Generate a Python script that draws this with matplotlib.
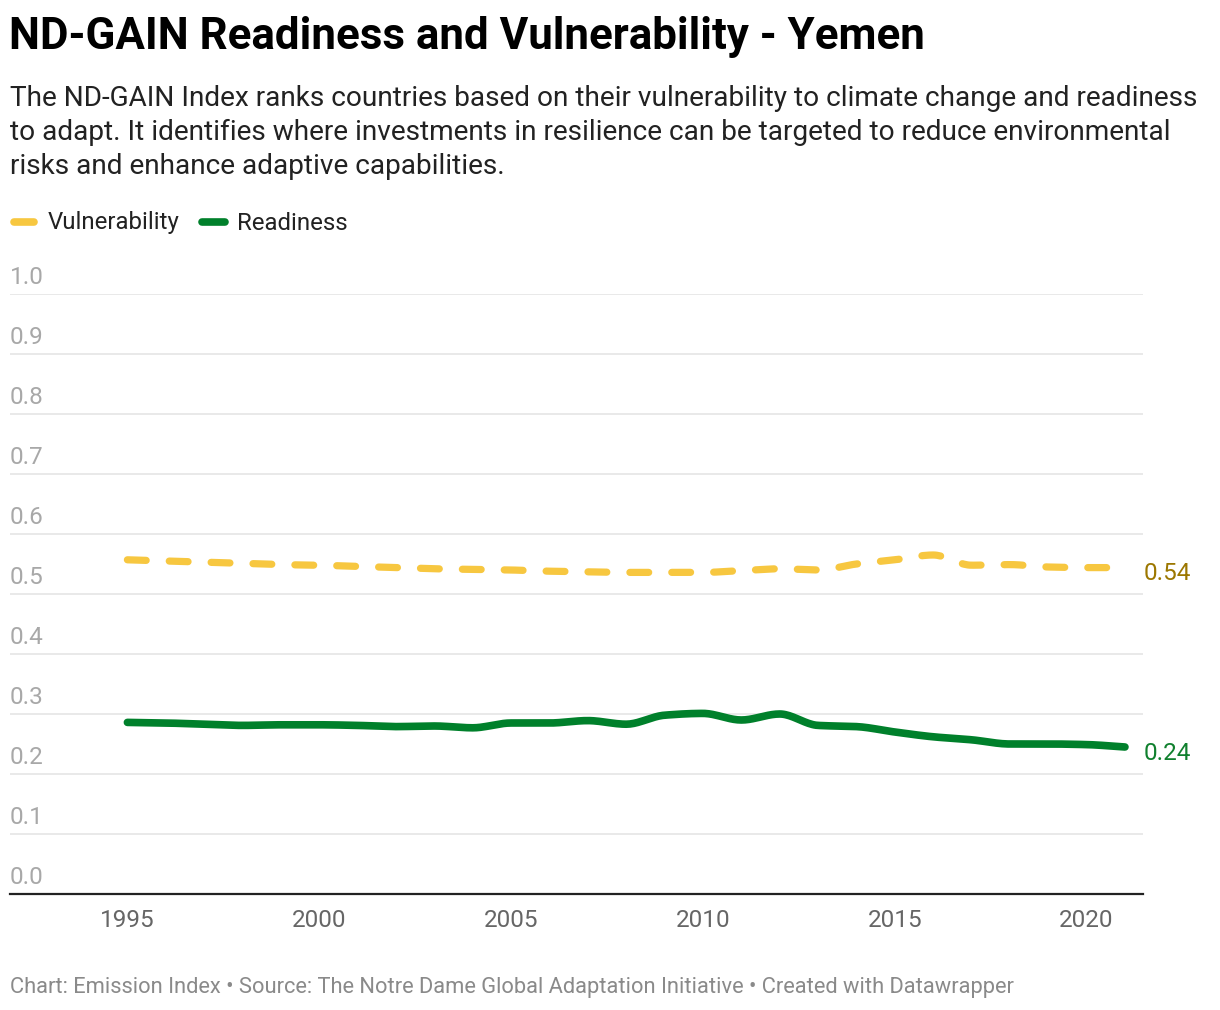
import numpy as np
import matplotlib
matplotlib.use("Agg")
import matplotlib.pyplot as plt
from matplotlib.transforms import offset_copy

plt.rcParams["font.family"] = ["Roboto", "DejaVu Sans"]

# Datos
years = list(range(1995, 2022))
vulnerability = [0.557, 0.555, 0.553, 0.551, 0.549, 0.548, 0.546, 0.544, 0.542,
                 0.541, 0.540, 0.538, 0.537, 0.536, 0.536, 0.536, 0.539, 0.542,
                 0.540, 0.550, 0.557, 0.565, 0.548, 0.549, 0.545, 0.544, 0.544]
readiness = [0.286, 0.285, 0.283, 0.281, 0.282, 0.282, 0.281, 0.279, 0.280,
             0.277, 0.285, 0.285, 0.289, 0.283, 0.298, 0.301, 0.290, 0.300,
             0.281, 0.279, 0.270, 0.262, 0.257, 0.250, 0.250, 0.249, 0.245]
y_ticks = [0.0, 0.1, 0.2, 0.3, 0.4, 0.5, 0.6, 0.7, 0.8, 0.9, 1.0]
x_ticks = [1995, 2000, 2005, 2010, 2015, 2020]

YELLOW = "#f7c740"
GREEN = "#00802b"


# Curva monótona (como la de Datawrapper) para dibujar la línea suavizada
def monotone(x, y, n=20):
    x = np.asarray(x, float)
    y = np.asarray(y, float)
    h = np.diff(x)
    d = np.diff(y) / h
    m = np.zeros_like(y)
    m[0], m[-1] = d[0], d[-1]
    for i in range(1, len(y) - 1):
        if d[i - 1] * d[i] <= 0:
            m[i] = 0
        else:
            m[i] = 2 / (1 / d[i - 1] + 1 / d[i])
    xs, ys = [], []
    for i in range(len(h)):
        t = np.linspace(0, 1, n, endpoint=False)
        h00 = 2 * t**3 - 3 * t**2 + 1
        h10 = t**3 - 2 * t**2 + t
        h01 = -2 * t**3 + 3 * t**2
        h11 = t**3 - t**2
        xs.append(x[i] + t * h[i])
        ys.append(h00 * y[i] + h10 * h[i] * m[i] + h01 * y[i + 1] + h11 * h[i] * m[i + 1])
    xs.append([x[-1]])
    ys.append([y[-1]])
    return np.concatenate(xs), np.concatenate(ys)


fig = plt.figure(figsize=(12.2, 10.1), dpi=100)
W, H = 1220, 1010

fig.text(9 / W, 1 - 37 / H, "ND-GAIN Readiness and Vulnerability - Yemen",
         fontsize=31.6, fontweight="bold", va="center", ha="left", color="#000000")
subtitulo = ("The ND-GAIN Index ranks countries based on their vulnerability to climate change and readiness\n"
             "to adapt. It identifies where investments in resilience can be targeted to reduce environmental\n"
             "risks and enhance adaptive capabilities.")
fig.text(10 / W, 1 - 85 / H, subtitulo, fontsize=20.2, va="top", ha="left",
         color="#222222", linespacing=1.32)

# Leyenda
fig.add_artist(plt.Line2D([14 / W, 34 / W], [1 - 222 / H] * 2, color=YELLOW, lw=5.5,
                          solid_capstyle="round"))
fig.text(48 / W, 1 - 223 / H, "Vulnerability", fontsize=17.3, va="center", color="#222222")
fig.add_artist(plt.Line2D([202 / W, 225 / W], [1 - 222 / H] * 2, color=GREEN, lw=5.5,
                          solid_capstyle="round"))
fig.text(237 / W, 1 - 223 / H, "Readiness", fontsize=17.3, va="center", color="#222222")

ax = fig.add_axes([10 / W, (H - 894) / H, 1133 / W, 600 / H])
ax.set_xlim(1991.94, 2021.47)
ax.set_ylim(0, 1)
for s in ax.spines.values():
    s.set_visible(False)
ax.set_yticks([])
ax.set_xticks(x_ticks)
ax.set_xticklabels([str(t) for t in x_ticks], fontsize=17.5, color="#666666")
ax.tick_params(axis="x", length=0, pad=11)

tr = offset_copy(ax.get_yaxis_transform(), fig=fig, x=0, y=16, units="dots")
for t in y_ticks:
    if t > 0:
        ax.axhline(t, color="#e3e3e3", lw=1.1, zorder=0)
    ax.text(0, t, f"{t:.1f}", transform=tr, fontsize=17.5, color="#a8a8a8",
            va="center", ha="left")
ax.axhline(0, color="#222222", lw=1.6, zorder=1, clip_on=False)

xv, yv = monotone(years, vulnerability)
ax.plot(xv, yv, color=YELLOW, lw=5.2, dashes=(2.6, 3.2), dash_capstyle="round",
        solid_capstyle="round", zorder=3)
xr, yr = monotone(years, readiness)
ax.plot(xr, yr, color=GREEN, lw=5.5, solid_capstyle="round", zorder=3)

tr2 = offset_copy(ax.transData, fig=fig, x=19, y=-6, units="dots")
ax.text(years[-1], vulnerability[-1], f"{vulnerability[-1]:.2f}", transform=tr2,
        fontsize=17.5, color="#9c7700", va="center", ha="left")
ax.text(years[-1], readiness[-1], f"{readiness[-1]:.2f}", transform=tr2,
        fontsize=17.5, color="#10802e", va="center", ha="left")

fig.text(10 / W, 1 - 987 / H,
         "Chart: Emission Index \u2022 Source: The Notre Dame Global Adaptation Initiative \u2022 Created with Datawrapper",
         fontsize=15.75, color="#8a8a8a", va="center", ha="left")

fig.savefig("out.png", dpi=100, facecolor="white")
